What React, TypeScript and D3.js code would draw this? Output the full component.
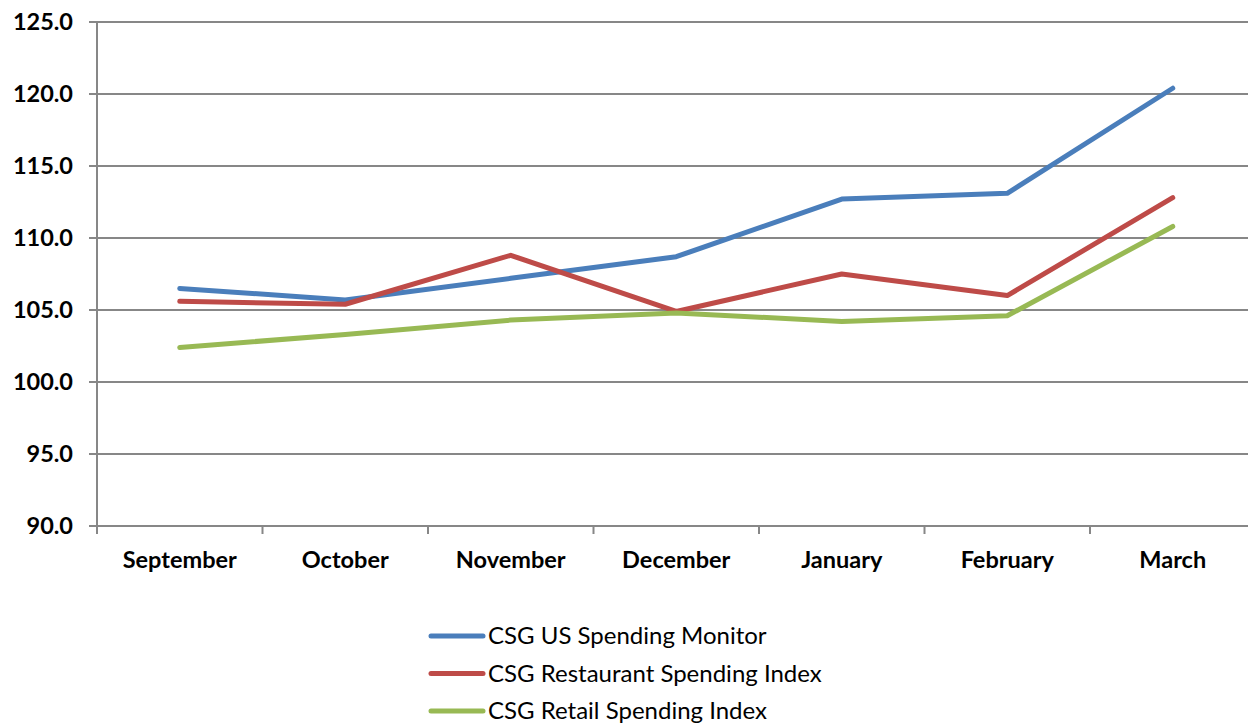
import React, { useEffect, useRef } from "react";
import * as d3 from "d3";

const months = ["September", "October", "November", "December", "January", "February", "March"];
const usSpending = [106.5, 105.7, 107.2, 108.7, 112.7, 113.1, 120.4];
const restaurantSpending = [105.6, 105.4, 108.8, 104.9, 107.5, 106.0, 112.8];
const retailSpending = [102.4, 103.3, 104.3, 104.8, 104.2, 104.6, 110.8];
const seriesNames = ["CSG US Spending Monitor", "CSG Restaurant Spending Index", "CSG Retail Spending Index"];
const seriesColors = ["#4a7ebb", "#be4b48", "#98b954"];
const yTicks = [90, 95, 100, 105, 110, 115, 120, 125];

const App = () => {
  const svgRef = useRef<SVGSVGElement>(null);

  useEffect(() => {
    const svg = d3.select(svgRef.current);
    svg.selectAll("*").remove();

    const width = 1248, height = 724;
    const left = 97, top = 22, bottom = 526;
    const step = 165.5;
    const font = "Lato, 'Open Sans', sans-serif";

    const x = d3.scaleBand().domain(months).range([left, left + step * months.length]);
    const y = d3.scaleLinear().domain([90, 125]).range([bottom, top]);

    // grid
    svg.append("g")
      .selectAll("line")
      .data(yTicks)
      .join("line")
      .attr("x1", left - 8)
      .attr("x2", width)
      .attr("y1", d => y(d))
      .attr("y2", d => y(d))
      .attr("stroke", "#878787")
      .attr("stroke-width", 2);

    // y axis line
    svg.append("line")
      .attr("x1", left).attr("x2", left)
      .attr("y1", top).attr("y2", bottom + 8)
      .attr("stroke", "#878787").attr("stroke-width", 2);

    // x ticks
    svg.append("g")
      .selectAll("line")
      .data(months.slice(1))
      .join("line")
      .attr("x1", d => x(d)!)
      .attr("x2", d => x(d)!)
      .attr("y1", bottom)
      .attr("y2", bottom + 8)
      .attr("stroke", "#878787")
      .attr("stroke-width", 2);

    svg.append("g")
      .selectAll("text")
      .data(yTicks)
      .join("text")
      .attr("x", 73)
      .attr("y", d => y(d) + 8)
      .attr("text-anchor", "end")
      .attr("font-family", font)
      .attr("font-weight", "bold")
      .attr("font-size", 23.5)
      .text(d => d.toFixed(1));

    svg.append("g")
      .selectAll("text")
      .data(months)
      .join("text")
      .attr("x", d => x(d)! + x.bandwidth() / 2)
      .attr("y", 568)
      .attr("text-anchor", "middle")
      .attr("font-family", font)
      .attr("font-weight", "bold")
      .attr("font-size", 23.5)
      .text(d => d);

    const line = d3.line<number>()
      .x((_, i) => x(months[i])! + x.bandwidth() / 2)
      .y(d => y(d));

    [usSpending, restaurantSpending, retailSpending].forEach((vals, i) => {
      svg.append("path")
        .attr("d", line(vals))
        .attr("fill", "none")
        .attr("stroke", seriesColors[i])
        .attr("stroke-width", 5)
        .attr("stroke-linecap", "round")
        .attr("stroke-linejoin", "round");
    });

    // legend
    const legend = svg.append("g");
    seriesNames.forEach((name, i) => {
      const ly = 636 + i * 37.5;
      legend.append("line")
        .attr("x1", 431).attr("x2", 483)
        .attr("y1", ly).attr("y2", ly)
        .attr("stroke", seriesColors[i])
        .attr("stroke-width", 5)
        .attr("stroke-linecap", "round");
      legend.append("text")
        .attr("x", 488)
        .attr("y", ly + 8)
        .attr("font-family", font)
        .attr("font-size", 24)
        .attr("fill", "#000")
        .text(name);
    });
  }, []);

  return (
    <svg
      ref={svgRef}
      width={1248}
      height={724}
      style={{ position: "absolute", left: 0, top: 0, background: "#fff" }}
    />
  );
};

export default App;
